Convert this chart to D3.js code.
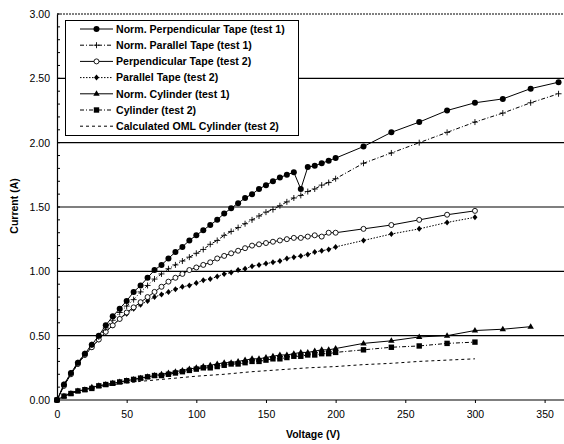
<!DOCTYPE html>
<html>
<head>
<meta charset="utf-8">
<script src="https://cdn.jsdelivr.net/npm/d3@7"></script>
<style>
  body { margin: 0; background: #fff; }
  svg { font-family: Arial, "Liberation Sans", sans-serif; }
</style>
</head>
<body>
<div id="chart"></div>
<script>
var width = 564
var height = 444

// voltage samples (V)
var voltsDense = [0,5,10,15,20,25,30,35,40,45,50,55,60,65,70,75,80,85,90,95,100,105,110,115,120,125,130,135,140,145,150,155,160,165,170,175,180,185,190,195,200]
var volts360 = voltsDense.concat([220,240,260,280,300,320,340,360])
var volts340 = voltsDense.concat([220,240,260,280,300,320,340])
var volts300 = voltsDense.concat([220,240,260,280,300])
var voltsOml = [0,10,20,40,60,80,100,120,140,160,180,200,220,240,260,280,300]

// current (A)
var normPerpTape1 = [0,0.12,0.21,0.29,0.36,0.43,0.50,0.58,0.65,0.71,0.77,0.84,0.89,0.95,1.01,1.05,1.10,1.15,1.19,1.24,1.28,1.32,1.36,1.40,1.45,1.49,1.53,1.57,1.60,1.64,1.67,1.70,1.73,1.75,1.77,1.64,1.81,1.82,1.84,1.86,1.88,1.97,2.08,2.16,2.25,2.31,2.34,2.42,2.47]
var normParTape1 = [0,0.12,0.21,0.29,0.36,0.43,0.49,0.56,0.62,0.68,0.73,0.78,0.84,0.89,0.94,0.98,1.02,1.05,1.08,1.11,1.14,1.17,1.21,1.24,1.28,1.31,1.34,1.37,1.40,1.43,1.46,1.48,1.51,1.54,1.57,1.59,1.62,1.64,1.67,1.69,1.72,1.84,1.92,2.00,2.08,2.16,2.23,2.31,2.38]
var perpTape2 = [0,0.11,0.20,0.28,0.35,0.41,0.47,0.53,0.58,0.63,0.68,0.72,0.76,0.80,0.84,0.88,0.92,0.95,0.98,1.01,1.03,1.05,1.07,1.10,1.12,1.14,1.16,1.18,1.20,1.21,1.22,1.23,1.24,1.25,1.26,1.26,1.27,1.28,1.27,1.30,1.30,1.33,1.36,1.40,1.44,1.47]
var parTape2 = [0,0.11,0.20,0.28,0.35,0.41,0.47,0.53,0.58,0.63,0.67,0.71,0.74,0.77,0.80,0.82,0.84,0.86,0.88,0.89,0.91,0.93,0.94,0.96,0.98,0.99,1.01,1.02,1.04,1.05,1.06,1.07,1.08,1.10,1.11,1.12,1.13,1.15,1.16,1.17,1.19,1.24,1.29,1.33,1.38,1.42]
var normCyl1 = [0,0.03,0.05,0.07,0.08,0.10,0.11,0.12,0.13,0.14,0.15,0.16,0.17,0.18,0.19,0.20,0.21,0.22,0.23,0.24,0.25,0.26,0.27,0.28,0.29,0.29,0.30,0.31,0.32,0.32,0.33,0.34,0.35,0.35,0.36,0.37,0.37,0.38,0.39,0.39,0.40,0.44,0.46,0.49,0.50,0.54,0.55,0.57]
var cyl2 = [0,0.03,0.05,0.07,0.08,0.09,0.11,0.12,0.13,0.14,0.15,0.16,0.17,0.18,0.19,0.19,0.20,0.21,0.22,0.23,0.24,0.25,0.25,0.26,0.27,0.28,0.28,0.29,0.30,0.30,0.31,0.32,0.32,0.33,0.34,0.34,0.35,0.35,0.36,0.36,0.37,0.39,0.41,0.42,0.44,0.45]
var omlCyl2 = [0,0.06,0.08,0.12,0.145,0.165,0.185,0.20,0.22,0.235,0.25,0.26,0.275,0.285,0.30,0.31,0.32]

var yTicks = [0,0.5,1,1.5,2,2.5,3]
var xTicks = [0,50,100,150,200,250,300,350]

var series = [
  {name: "Norm. Perpendicular Tape (test 1)", x: volts360, y: normPerpTape1, dash: null, marker: "dot"},
  {name: "Norm. Parallel Tape (test 1)", x: volts360, y: normParTape1, dash: "4,2,1,2", marker: "plus"},
  {name: "Perpendicular Tape (test 2)", x: volts300, y: perpTape2, dash: null, marker: "ring"},
  {name: "Parallel Tape (test 2)", x: volts300, y: parTape2, dash: "1.5,1.5", marker: "diamond"},
  {name: "Norm. Cylinder (test 1)", x: volts340, y: normCyl1, dash: null, marker: "triangle"},
  {name: "Cylinder (test 2)", x: volts300, y: cyl2, dash: "4,2,1,2", marker: "square"},
  {name: "Calculated OML Cylinder (test 2)", x: voltsOml, y: omlCyl2, dash: "3,3", marker: null}
]

var x = d3.scaleLinear().domain([0, 365]).range([57, 565.5])
var y = d3.scaleLinear().domain([0, 3]).range([400, 14])

var svg = d3.select("#chart").append("svg")
    .attr("width", width)
    .attr("height", height)

// gridlines
svg.append("g").selectAll("line")
    .data(yTicks.filter(function(d){ return d > 0 && d < 3; }))
    .enter().append("line")
    .attr("x1", 57).attr("x2", 564)
    .attr("y1", function(d){ return y(d); })
    .attr("y2", function(d){ return y(d); })
    .attr("stroke", "#000").attr("stroke-width", 1.1)

// top border (dotted in the scan)
svg.append("line")
    .attr("x1", 57).attr("x2", 564).attr("y1", y(3)).attr("y2", y(3))
    .attr("stroke", "#000").attr("stroke-dasharray", "2,1").attr("stroke-width", 1)

// axes
var yAxis = d3.axisLeft(y).tickValues(yTicks).tickFormat(d3.format(".2f")).tickSize(0).tickPadding(7)
var gy = svg.append("g").attr("transform", "translate(57,0)").call(yAxis)
gy.select(".domain").attr("stroke-width", 1.2)
gy.selectAll("text").attr("font-size", 10.5).attr("fill", "#000")

// minor y ticks
svg.append("g").selectAll("line")
    .data(d3.range(0, 31).map(function(i){ return i / 10; }))
    .enter().append("line")
    .attr("x1", 57).attr("x2", 60)
    .attr("y1", function(d){ return y(d); })
    .attr("y2", function(d){ return y(d); })
    .attr("stroke", "#000")

var xAxis = d3.axisBottom(x).tickValues(xTicks).tickSize(3).tickPadding(8)
var gx = svg.append("g").attr("transform", "translate(0,400)").call(xAxis)
gx.select(".domain").attr("stroke-width", 1.2).attr("d", "M57,0H564")
gx.selectAll("text").attr("font-size", 10.5).attr("fill", "#000")

// axis titles
svg.append("text")
    .attr("x", 313).attr("y", 438)
    .attr("text-anchor", "middle")
    .attr("font-size", 10.5).attr("font-weight", "bold")
    .text("Voltage (V)")

svg.append("text")
    .attr("transform", "translate(18,206) rotate(-90)")
    .attr("text-anchor", "middle")
    .attr("font-size", 10.5).attr("font-weight", "bold")
    .text("Current (A)")

// marker drawing
function drawMarker(g, type, cx, cy) {
  if (type == "dot") {
    g.append("circle").attr("cx", cx).attr("cy", cy).attr("r", 3).attr("fill", "#000")
  } else if (type == "ring") {
    g.append("circle").attr("cx", cx).attr("cy", cy).attr("r", 2.5)
      .attr("fill", "#fff").attr("stroke", "#000").attr("stroke-width", 0.9)
  } else if (type == "plus") {
    g.append("path").attr("d", "M" + (cx - 3) + "," + cy + "h6M" + cx + "," + (cy - 3) + "v6")
      .attr("stroke", "#000").attr("stroke-width", 0.9)
  } else if (type == "diamond") {
    g.append("path").attr("d", "M" + cx + "," + (cy - 3) + "l2.5,3l-2.5,3l-2.5,-3z").attr("fill", "#000")
  } else if (type == "triangle") {
    g.append("path").attr("d", "M" + cx + "," + (cy - 3.5) + "l3.2,5.5h-6.4z").attr("fill", "#000")
  } else if (type == "square") {
    g.append("rect").attr("x", cx - 2.7).attr("y", cy - 2.7).attr("width", 5.4).attr("height", 5.4).attr("fill", "#000")
  }
}

var line = d3.line()
    .x(function(d){ return x(d[0]); })
    .y(function(d){ return y(d[1]); })

// draw in reverse so the first series ends on top
series.slice().reverse().forEach(function(s) {
  var pts = s.x.map(function(v, i){ return [v, s.y[i]]; })
  var g = svg.append("g")
  g.append("path")
    .attr("d", line(pts))
    .attr("fill", "none")
    .attr("stroke", "#000")
    .attr("stroke-width", 1)
    .attr("stroke-dasharray", s.dash)
  if (s.marker) {
    pts.forEach(function(p){ drawMarker(g, s.marker, x(p[0]), y(p[1])); })
  }
})

// legend
var legend = svg.append("g")
legend.append("rect")
    .attr("x", 65.5).attr("y", 20.5).attr("width", 233).attr("height", 115)
    .attr("fill", "#fff").attr("stroke", "#000").attr("stroke-width", 1)

series.forEach(function(s, i) {
  var ly = 29 + i * 16.2
  legend.append("line")
    .attr("x1", 80).attr("x2", 113).attr("y1", ly).attr("y2", ly)
    .attr("stroke", "#000").attr("stroke-width", 1)
    .attr("stroke-dasharray", s.dash)
  if (s.marker) drawMarker(legend, s.marker, 96.5, ly)
  legend.append("text")
    .attr("x", 116).attr("y", ly + 3.7)
    .attr("font-size", 10.6).attr("font-weight", "bold")
    .text(s.name)
})
</script>
</body>
</html>
